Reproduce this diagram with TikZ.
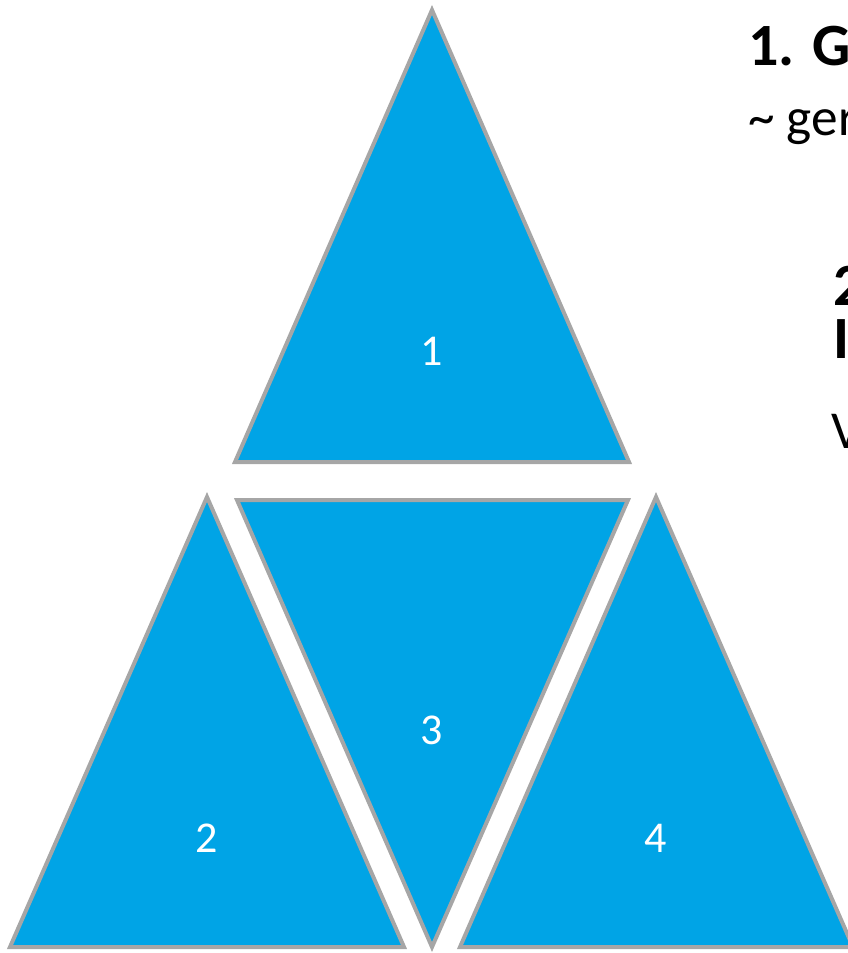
\documentclass[tikz,border=0pt]{standalone}
\usepackage{fontspec}
\setmainfont{Carlito}
\usepackage{tikz}
\definecolor{piecefill}{HTML}{00A4E6}
\definecolor{pieceline}{HTML}{A6A6A6}
\tikzstyle{piece} = [fill=piecefill, draw=pieceline, line width=3pt]
\tikzstyle{num} = [text=white, font=\fontsize{33}{33}\selectfont, inner sep=0pt]
\tikzstyle{head} = [anchor=base west, inner sep=0pt, font=\fontsize{45}{45}\selectfont\bfseries]
\tikzstyle{sub} = [anchor=base west, inner sep=0pt, font=\fontsize{40}{40}\selectfont]

\begin{document}
\begin{tikzpicture}[x=0.75pt, y=-0.75pt]
    \useasboundingbox (0,0) rectangle (848,953);
    \clip (0,0) rectangle (848,953);
    % Drawing the four triangles
    \draw [piece] (432,10) -- (629,462) -- (235,462) -- cycle;
    \draw [piece] (207,497) -- (404,947) -- (10,947) -- cycle;
    \draw [piece] (237,500) -- (628,500) -- (432,947) -- cycle;
    \draw [piece] (656,497) -- (853,947) -- (460,947) -- cycle;

    % Numbers
    \node [num] (n1) at (432,351) {1};
    \node [num] (n2) at (207,838) {2};
    \node [num] (n3) at (432,730) {3};
    \node [num] (n4) at (656,838) {4};

    % Text on the right
    \node [head] (t1) at (748,65) {1. G};
    \node [sub] (s1) at (748,135) {\~{} ger};
    \node [head] (t2) at (833,305) {2};
    \node [head] (t3) at (833,358) {I};
    \node [sub] (s2) at (831,448) {V};
\end{tikzpicture}
\end{document}
